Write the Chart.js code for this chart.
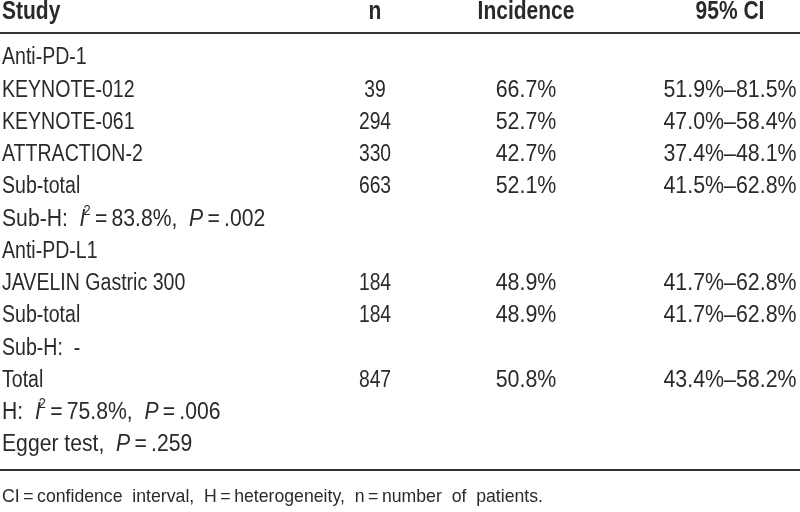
<!DOCTYPE html>
<html>
<head>
<meta charset="utf-8">
<script src="https://cdn.jsdelivr.net/npm/chart.js@4"></script>
<style>
    html, body { margin: 0; padding: 0; background: #fff; }
    #wrap { width: 800px; height: 512px; }
</style>
</head>
<body>
<div id="wrap"><canvas id="tableChart" width="800" height="512"></canvas></div>
<script>
// Table content
const headers = ['Study', 'n', 'Incidence', '95% CI'];
const studies = ['Anti-PD-1', 'KEYNOTE-012', 'KEYNOTE-061', 'ATTRACTION-2', 'Sub-total', 'Sub-H',
    'Anti-PD-L1', 'JAVELIN Gastric 300', 'Sub-total', 'Sub-H:  -', 'Total', 'H', 'Egger test'];
const patients = [null, 39, 294, 330, 663, null, null, 184, 184, null, 847, null, null];
const incidence = [null, 66.7, 52.7, 42.7, 52.1, null, null, 48.9, 48.9, null, 50.8, null, null];
const ciLower = [null, 51.9, 47.0, 37.4, 41.5, null, null, 41.7, 41.7, null, 43.4, null, null];
const ciUpper = [null, 81.5, 58.4, 48.1, 62.8, null, null, 62.8, 62.8, null, 58.2, null, null];
// heterogeneity / Egger rows (row index -> stats)
const hetRows = [5, 11];
const hetI2 = [83.8, 75.8];
const hetP = ['.002', '.006'];
const eggerRow = 12;
const eggerP = '.259';
const footnote = 'CI\u2009=\u2009confidence  interval,  H\u2009=\u2009heterogeneity,  n\u2009=\u2009number  of  patients.';

const FONT = '"Liberation Sans", Arial, sans-serif';
const TEXT_COLOR = '#2a2a2a';
// horizontal squeeze factors to get a condensed look out of Liberation Sans
const SQ_NAME = 0.85;
const SQ_RICH = 0.92;
const SQ_N = 0.84;
const SQ_PCT = 0.93;
const SQ_NOTE = 0.93;
const SQ_HEAD = 0.84;

function studyCell(i) {
    const h = hetRows.indexOf(i);
    if (h >= 0) {
        return [
            { t: studies[i] + ':  ' },
            { t: 'I', s: 'i' },
            { t: '2', s: 'sup' },
            { t: '\u2009=\u2009' + hetI2[h].toFixed(1) + '%,  ' },
            { t: 'P', s: 'i' },
            { t: '\u2009=\u2009' + hetP[h] }
        ];
    }
    if (i === eggerRow) {
        return [
            { t: studies[i] + ',  ' },
            { t: 'P', s: 'i' },
            { t: '\u2009=\u2009' + eggerP }
        ];
    }
    return [{ t: studies[i] }];
}

// draws squeezed text, returns drawn width
function narrowText(ctx, text, x, y, font, align, sx) {
    ctx.font = font;
    const w = ctx.measureText(text).width * sx;
    let left = x;
    if (align === 'center') left = x - w / 2;
    else if (align === 'right') left = x - w;
    ctx.save();
    ctx.translate(left, y);
    ctx.scale(sx, 1);
    ctx.textAlign = 'left';
    ctx.fillText(text, 0, 0);
    ctx.restore();
    return w;
}

function drawRich(ctx, segs, x, y, size) {
    const sx = segs.length > 1 ? SQ_RICH : SQ_NAME;
    let cx = x;
    segs.forEach(seg => {
        if (seg.s === 'sup') {
            cx += narrowText(ctx, seg.t, cx - 2, y - size * 0.36, Math.round(size * 0.62) + 'px ' + FONT, 'left', sx) - 2;
        } else {
            const f = (seg.s === 'i' ? 'italic ' : '') + size + 'px ' + FONT;
            cx += narrowText(ctx, seg.t, cx, y, f, 'left', sx);
        }
    });
}

const tablePlugin = {
    id: 'tablePlugin',
    afterDraw(chart, args, opts) {
        const ctx = chart.ctx;
        const xs = chart.scales.x;
        const ys = chart.scales.y;
        const cols = opts.columns;
        ctx.save();
        ctx.fillStyle = TEXT_COLOR;
        ctx.textBaseline = 'middle';

        // header
        headers.forEach((h, c) => {
            narrowText(ctx, h, xs.getPixelForValue(cols[c]), opts.headerY,
                'bold ' + opts.headerSize + 'px ' + FONT, c === 0 ? 'left' : 'center', SQ_HEAD);
        });

        // rules
        ctx.strokeStyle = '#333';
        ctx.lineWidth = 2;
        [opts.headerRuleY, opts.bottomRuleY].forEach(yy => {
            ctx.beginPath();
            ctx.moveTo(0, yy);
            ctx.lineTo(chart.width, yy);
            ctx.stroke();
        });

        // body
        const bf = opts.bodySize + 'px ' + FONT;
        studies.forEach((s, i) => {
            const y = ys.getPixelForValue(i);
            drawRich(ctx, studyCell(i), xs.getPixelForValue(cols[0]), y, opts.bodySize);
            if (patients[i] !== null) {
                narrowText(ctx, String(patients[i]), xs.getPixelForValue(cols[1]), y, bf, 'center', SQ_N);
            }
            if (incidence[i] !== null) {
                narrowText(ctx, incidence[i].toFixed(1) + '%', xs.getPixelForValue(cols[2]), y, bf, 'center', SQ_PCT);
            }
            if (ciLower[i] !== null) {
                narrowText(ctx, ciLower[i].toFixed(1) + '%\u2013' + ciUpper[i].toFixed(1) + '%',
                    xs.getPixelForValue(cols[3]), y, bf, 'center', SQ_PCT);
            }
        });

        // footnote
        narrowText(ctx, footnote, xs.getPixelForValue(cols[0]), opts.noteY,
            opts.noteSize + 'px ' + FONT, 'left', SQ_NOTE);
        ctx.restore();
    }
};

const chart = new Chart(document.getElementById('tableChart'), {
    type: 'scatter',
    data: { datasets: [] },
    options: {
        responsive: false,
        animation: false,
        events: [],
        layout: { padding: { top: 58, bottom: 67, left: 0, right: 0 } },
        plugins: {
            legend: { display: false },
            tooltip: { enabled: false },
            tablePlugin: {
                columns: [2, 375, 526, 730],
                headerSize: 25,
                bodySize: 23,
                noteSize: 19,
                headerY: 12,
                headerRuleY: 33,
                bottomRuleY: 470,
                noteY: 497
            }
        },
        scales: {
            x: { type: 'linear', min: 0, max: 800, display: false },
            y: { type: 'linear', min: 0, max: studies.length - 1, reverse: true, display: false }
        }
    },
    plugins: [tablePlugin]
});
</script>
</body>
</html>
